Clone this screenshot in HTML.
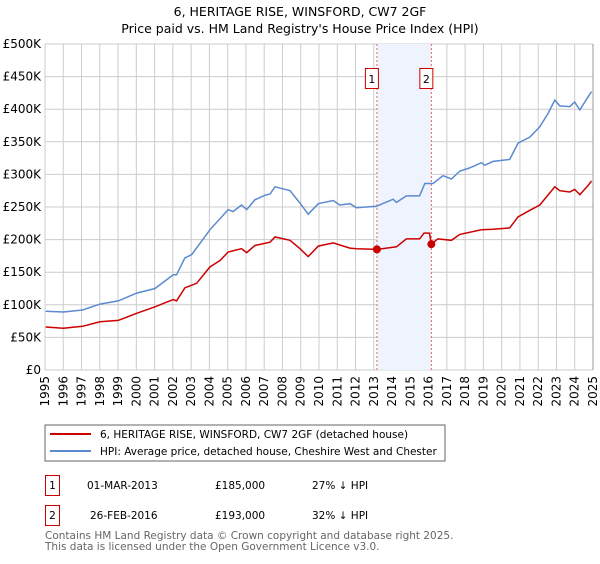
<!DOCTYPE html>
<html><head><meta charset="utf-8"><style>
body{margin:0;background:#fff;font-family:"DejaVu Sans","Liberation Sans",sans-serif;}
svg text{font-family:"DejaVu Sans","Liberation Sans",sans-serif;}
</style></head><body>
<svg id="chart" width="600" height="560" viewBox="0 0 600 560" xmlns="http://www.w3.org/2000/svg">
<text x="300" y="16" text-anchor="middle" font-size="12.5" fill="#000">6, HERITAGE RISE, WINSFORD, CW7 2GF</text>
<text x="300" y="33" text-anchor="middle" font-size="12.5" fill="#000">Price paid vs. HM Land Registry's House Price Index (HPI)</text>
<g id="grid"></g>
<g id="band"></g>
<g id="series"></g>
<g id="axes"></g>
<rect x="45" y="425" width="400" height="36" fill="#fff" stroke="#666" stroke-width="1"/>
<line x1="50" y1="434" x2="91" y2="434" stroke="#cc0000" stroke-width="2"/>
<text x="100" y="438" font-size="10.5">6, HERITAGE RISE, WINSFORD, CW7 2GF (detached house)</text>
<line x1="50" y1="451" x2="91" y2="451" stroke="#5b8ad0" stroke-width="2"/>
<text x="100" y="455" font-size="10.5">HPI: Average price, detached house, Cheshire West and Chester</text>
<rect x="45.5" y="475.5" width="14" height="20" fill="#fff" stroke="#cc0000"/>
<text x="52.5" y="489" font-size="10.5" text-anchor="middle">1</text>
<text x="87" y="489" font-size="10.5">01-MAR-2013</text>
<text x="215" y="489" font-size="10.5">£185,000</text>
<text x="312" y="489" font-size="10.5">27% ↓ HPI</text>
<rect x="45.5" y="505.5" width="14" height="20" fill="#fff" stroke="#cc0000"/>
<text x="52.5" y="519" font-size="10.5" text-anchor="middle">2</text>
<text x="90" y="519" font-size="10.5">26-FEB-2016</text>
<text x="215" y="519" font-size="10.5">£193,000</text>
<text x="312" y="519" font-size="10.5">32% ↓ HPI</text>
<text x="45" y="539" font-size="10.5" fill="#666">Contains HM Land Registry data © Crown copyright and database right 2025.</text>
<text x="45" y="550" font-size="10.5" fill="#666">This data is licensed under the Open Government Licence v3.0.</text>
</svg>
<script>
const hpiYears=[1995.04,1996.0,1997.06,1998.01,1999.01,2000.02,2001.02,2002.02,2002.2,2002.66,2003.03,2004.03,2005.03,2005.3,2005.76,2006.04,2006.49,2007.04,2007.32,2007.59,2008.41,2008.96,2009.41,2009.96,2010.78,2011.14,2011.69,2012.05,2013.14,2014.06,2014.24,2014.78,2015.51,2015.79,2016.24,2016.79,2017.25,2017.71,2018.25,2018.89,2019.07,2019.53,2020.44,2020.9,2021.54,2022.09,2022.55,2022.91,2023.18,2023.73,2024.0,2024.28,2024.73,2024.92];
const hpiValues=[90,89,92,101,106,118,125,146,146,172,177,215,246,243,253,246,261,268,270,281,275,256,239,255,260,253,255,249,251,262,257,267,267,286,286,298,293,305,310,318,314,320,323,348,357,373,394,414,405,404,411,399,419,427];
const priceYears=[1995.04,1996.0,1997.06,1998.01,1999.01,2000.02,2001.02,2002.02,2002.2,2002.66,2003.3,2004.03,2004.58,2005.03,2005.76,2006.04,2006.49,2007.32,2007.59,2008.41,2008.96,2009.41,2009.96,2010.78,2011.69,2012.05,2013.17,2014.24,2014.78,2015.51,2015.75,2016.05,2016.15,2016.5,2017.25,2017.71,2018.89,2019.53,2020.44,2020.9,2021.54,2022.09,2022.91,2023.18,2023.73,2024.0,2024.28,2024.73,2024.92];
const priceValues=[66,64,67,74,76,87,97,108,106,126,133,158,168,181,186,180,191,196,204,199,186,174,190,195,187,186,185,189,201,201,210,210,193,201,199,208,215,216,218,235,245,253,281,275,273,277,269,283,290];
const saleYears=[2013.17,2016.15];
const saleValues=[185,193];
const saleLabels=["1","2"];
const yTicks=[0,50,100,150,200,250,300,350,400,450,500];
const yTickLabels=["£0","£50K","£100K","£150K","£200K","£250K","£300K","£350K","£400K","£450K","£500K"];
const xTicks=[1995,1996,1997,1998,1999,2000,2001,2002,2003,2004,2005,2006,2007,2008,2009,2010,2011,2012,2013,2014,2015,2016,2017,2018,2019,2020,2021,2022,2023,2024,2025];

const NS="http://www.w3.org/2000/svg";
const L=45,R=593,T=44,B=370;
function xs(y){return L+(y-1995)/30*(R-L);}
function ys(v){return B-v/500*(B-T);}
function mk(tag,attrs,parent){const e=document.createElementNS(NS,tag);for(const k in attrs)e.setAttribute(k,attrs[k]);parent.appendChild(e);return e;}
const grid=document.getElementById('grid'),axes=document.getElementById('axes'),band=document.getElementById('band'),series=document.getElementById('series');
yTicks.forEach((t,i)=>{
  const ln=mk('line',{x1:L,x2:R,y1:ys(t),y2:ys(t),stroke:'#cccccc','stroke-width':1},grid);
  
  
  const tx=mk('text',{x:L-4,y:ys(t)+4,'text-anchor':'end','font-size':'12',fill:'#000'},axes);
  tx.textContent=yTickLabels[i];
  
  
});
xTicks.forEach(t=>{
  const ln=mk('line',{x1:xs(t),x2:xs(t),y1:T,y2:B,stroke:'#cccccc','stroke-width':1},grid);
  
  
  const x=xs(t)+4,y=376;
  const tx=mk('text',{x:x,y:y,'text-anchor':'end','font-size':'12',transform:`rotate(-90 ${x} ${y})`},axes);
  tx.textContent=String(t);
  
  
});
const rl=mk('line',{x1:R,x2:R,y1:T,y2:B,stroke:'#999','stroke-width':1},axes);


const bb=mk('rect',{x:xs(saleYears[0]),y:T,width:xs(saleYears[1])-xs(saleYears[0]),height:B-T,fill:'#eef3fd'},band);


saleYears.forEach((sy,i)=>{
  const dl=mk('line',{x1:xs(sy),x2:xs(sy),y1:T,y2:B,stroke:'#e06666','stroke-width':1,'stroke-dasharray':'2,2'},band);
  
  
  const bx=mk('rect',{x:xs(sy)-11.5,y:68.5,width:13,height:20,fill:'#fff',stroke:'#cc0000'},band);
  
  
  const bt=mk('text',{x:xs(sy)-5,y:83,'text-anchor':'middle','font-size':'11'},band);
  bt.textContent=saleLabels[i];
  
  
});
function path(xa,va){return xa.map((x,i)=>(i?'L':'M')+xs(x).toFixed(1)+','+ys(va[i]).toFixed(1)).join('');}
const hp=mk('path',{d:path(hpiYears,hpiValues),fill:'none',stroke:'#5b8ad0','stroke-width':1.5},series);


const pp=mk('path',{d:path(priceYears,priceValues),fill:'none',stroke:'#cc0000','stroke-width':1.5},series);


saleYears.forEach((sy,i)=>{
  const c=mk('circle',{cx:xs(sy),cy:ys(saleValues[i]),r:4,fill:'#cc0000'},series);
  
  
});
</script>
</body></html>
